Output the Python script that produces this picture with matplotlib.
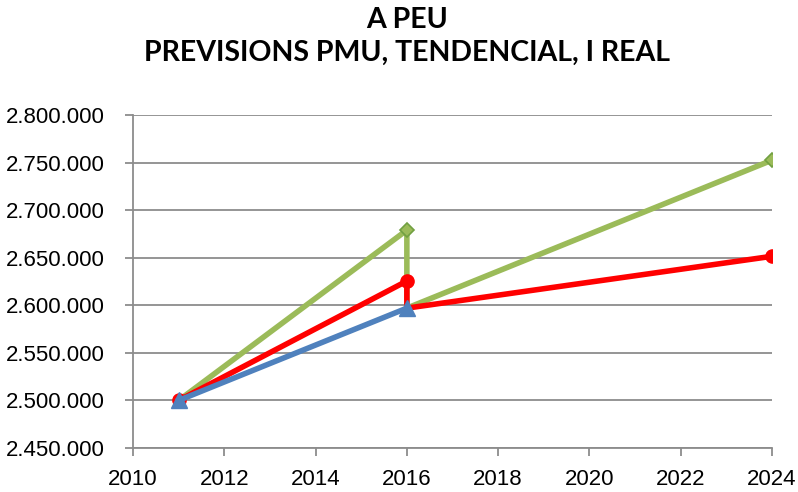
import matplotlib.pyplot as plt
from matplotlib.ticker import FuncFormatter

# series (year, population)
green_years = [2011, 2016, 2016, 2024]
green_vals = [2500000, 2679000, 2597000, 2752500]
red_years = [2011, 2016, 2016, 2024]
red_vals = [2500000, 2625500, 2597000, 2651500]
blue_years = [2011, 2016]
blue_vals = [2500000, 2597000]

title = "A PEU\nPREVISIONS PMU, TENDENCIAL, I REAL"

fig = plt.figure(figsize=(7.98, 4.92), dpi=100)
ax = fig.add_axes([133 / 798, 1 - 448 / 492, (772 - 133) / 798, (448 - 115) / 492])

ax.plot(green_years, green_vals, color="#9BBB59", lw=4, marker="D", ms=7,
        mfc="#9BBB59", mec="#71A041", mew=1.2, markevery=[1, 3], zorder=3)
ax.plot(red_years, red_vals, color="#FF0000", lw=4, marker="o", ms=9.5,
        markevery=[0, 1, 3], zorder=4)
ax.plot(blue_years, blue_vals, color="#4F81BD", lw=4, marker="^", ms=11, zorder=5)

ax.set_xlim(2010, 2024)
ax.set_ylim(2450000, 2800000)
ax.set_xticks(range(2010, 2025, 2))
ax.set_yticks(range(2450000, 2800001, 50000))
ax.yaxis.set_major_formatter(FuncFormatter(lambda v, p: f"{int(v):,}".replace(",", ".")))

ax.grid(axis="y", color="#8C8C8C", lw=1.3)
ax.set_axisbelow(True)
for s in ["top", "right"]:
    ax.spines[s].set_visible(False)
for s in ["left", "bottom"]:
    ax.spines[s].set_color("#8C8C8C")
    ax.spines[s].set_linewidth(1.3)
ax.tick_params(colors="#8C8C8C", length=6, width=1.3, labelcolor="black")
ax.tick_params(axis="y", pad=14)
ax.tick_params(axis="x", pad=9)
for lab in ax.get_xticklabels() + ax.get_yticklabels():
    lab.set_fontfamily(["Liberation Sans Narrow", "Liberation Sans"])
    lab.set_fontsize(16)

fig.text(407 / 798, 0.985, title, ha="center", va="top", fontsize=20.5, fontweight="bold",
         family=["Lato", "DejaVu Sans"], linespacing=1.3)

fig.savefig("out.png", dpi=100)
